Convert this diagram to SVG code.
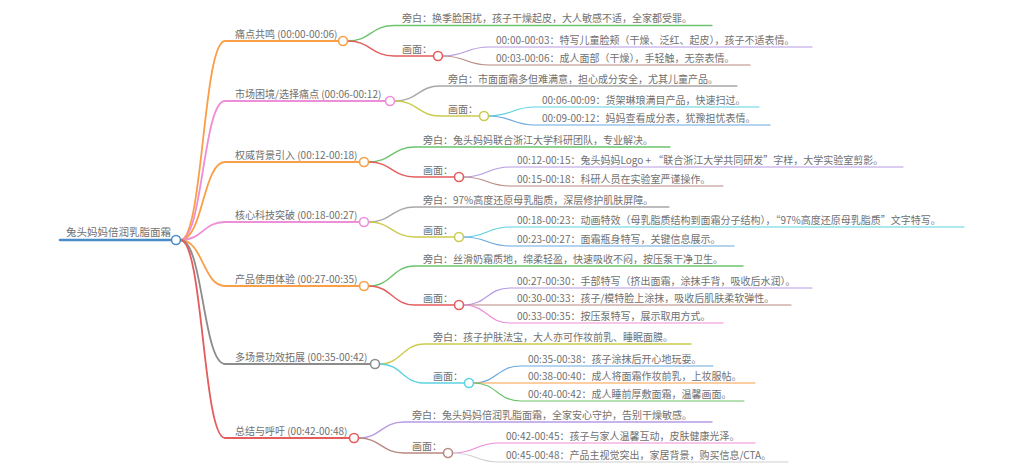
<svg xmlns="http://www.w3.org/2000/svg" width="1024" height="473" viewBox="0 0 1024 473">
<style>
text{font-family:"Noto Sans CJK SC","Liberation Sans",sans-serif;font-size:10px;fill:#707070}
.root{font-size:10.5px}
path{fill:none;stroke-linecap:round}
.l1{stroke-width:1.8}
.l2{stroke-width:1.4}
.l3{stroke-width:1.2}
circle{fill:#fff;stroke-width:1.6}
.or{stroke:#FA9E47}.pk{stroke:#EE8DD8}.gn{stroke:#6CC36C}.rd{stroke:#E45C5C}
.pu{stroke:#B79BE3}.br{stroke:#B88A80}.gy{stroke:#A8A8A8}.dg{stroke:#8C8C8C}
.ye{stroke:#CBCB50}.cy{stroke:#5DD2E2}.bl{stroke:#6BA7DD}.lg{stroke:#CFCFCF}.rb{stroke:#4A8CC8}
</style>
<g id="connectors">
<path class="l1 or" d="M180.5,240 C203,240 203,41 225,41 H338.5"/>
<path class="l1 pk" d="M180.5,240 C203,240 203,101 225,101 H385.5"/>
<path class="l1 or" d="M180.5,240 C203,240 203,162 225,162 H359.5"/>
<path class="l1 pk" d="M180.5,240 C203,240 203,222 225,222 H359.5"/>
<path class="l1 or" d="M180.5,240 C203,240 203,286 225,286 H359.5"/>
<path class="l1 dg" d="M180.5,240 C203,240 203,364 225,364 H370.5"/>
<path class="l1 rd" d="M180.5,240 C203,240 203,438 225,438 H349.5"/>

<path class="l2 gn" d="M347.5,41 C371,41 371,25.5 394,25.5 H712"/>
<path class="l2 rd" d="M347.5,41 C371,41 371,56 394,56 H433.5"/>
<path class="l2 gy" d="M394.5,101 C418,101 418,86 440,86 H737"/>
<path class="l2 ye" d="M394.5,101 C418,101 418,116 440,116 H479.5"/>
<path class="l2 gn" d="M368.5,162 C392,162 392,147 415,147 H670"/>
<path class="l2 rd" d="M368.5,162 C392,162 392,177 415,177 H454.5"/>
<path class="l2 gy" d="M368.5,222 C392,222 392,207 415,207 H669"/>
<path class="l2 ye" d="M368.5,222 C392,222 392,237 415,237 H454.5"/>
<path class="l2 gn" d="M368.5,286 C392,286 392,266 415,266 H743"/>
<path class="l2 rd" d="M368.5,286 C392,286 392,305 415,305 H454.5"/>
<path class="l2 ye" d="M379.5,364 C402,364 402,344 425,344 H691"/>
<path class="l2 cy" d="M379.5,364 C402,364 402,383 425,383 H464.5"/>
<path class="l2 pu" d="M358.5,438 C381,438 381,422 404,422 H712"/>
<path class="l2 br" d="M358.5,438 C381,438 381,453 404,453 H443.5"/>

<path class="l3 pu" d="M442.5,56 C466,56 466,47 489,47 H812"/>
<path class="l3 br" d="M442.5,56 C466,56 466,65 489,65 H750"/>
<path class="l3 cy" d="M488.5,116 C512,116 512,107 535,107 H759"/>
<path class="l3 bl" d="M488.5,116 C512,116 512,125 535,125 H770"/>
<path class="l3 pu" d="M463.5,177 C487,177 487,167 510,167 H903"/>
<path class="l3 br" d="M463.5,177 C487,177 487,186 510,186 H723"/>
<path class="l3 cy" d="M463.5,237 C487,237 487,227 510,227 H964"/>
<path class="l3 bl" d="M463.5,237 C487,237 487,246 510,246 H734"/>
<path class="l3 pu" d="M463.5,305 C487,305 487,288 510,288 H812"/>
<path class="l3 br" d="M463.5,305 H791"/>
<path class="l3 pk" d="M463.5,305 C487,305 487,323 510,323 H723"/>
<path class="l3 bl" d="M473.5,383 C497,383 497,366 521,366 H713"/>
<path class="l3 or" d="M473.5,383 H755"/>
<path class="l3 gn" d="M473.5,383 C497,383 497,401 521,401 H744"/>
<path class="l3 pk" d="M452.5,453 C476,453 476,443 499,443 H755"/>
<path class="l3 lg" d="M452.5,453 C476,453 476,462 499,462 H788"/>
</g>

<g id="root">
<path class="rb" stroke-width="2.5" d="M60,240 H171.5"/>
<text class="root" x="66" y="236">兔头妈妈倍润乳脂面霜</text>
<circle class="rb" cx="176" cy="240" r="4.5"/>
</g>

<g id="n1">
<text x="235" y="37.5">痛点共鸣 (00:00-00:06)</text>
<circle class="or" cx="343" cy="41" r="4.5"/>
</g>
<g id="n1a"><text x="402" y="22">旁白：换季脸困扰，孩子干燥起皮，大人敏感不适，全家都受罪。</text></g>
<g id="n1b"><text x="402" y="52.5">画面：</text><circle class="rd" cx="438" cy="56" r="4.5"/></g>
<g id="n1b1"><text x="496" y="43.5">00:00-00:03：特写儿童脸颊（干燥、泛红、起皮），孩子不适表情。</text></g>
<g id="n1b2"><text x="496" y="61.5">00:03-00:06：成人面部（干燥），手轻触，无奈表情。</text></g>

<g id="n2">
<text x="235" y="97.5">市场困境/选择痛点 (00:06-00:12)</text>
<circle class="pk" cx="390" cy="101" r="4.5"/>
</g>
<g id="n2a"><text x="448" y="82.5">旁白：市面面霜多但难满意，担心成分安全，尤其儿童产品。</text></g>
<g id="n2b"><text x="448" y="112.5">画面：</text><circle class="ye" cx="484" cy="116" r="4.5"/></g>
<g id="n2b1"><text x="542" y="103.5">00:06-00:09：货架琳琅满目产品，快速扫过。</text></g>
<g id="n2b2"><text x="542" y="121.5">00:09-00:12：妈妈查看成分表，犹豫担忧表情。</text></g>

<g id="n3">
<text x="235" y="158.5">权威背景引入 (00:12-00:18)</text>
<circle class="or" cx="364" cy="162" r="4.5"/>
</g>
<g id="n3a"><text x="423" y="143.5">旁白：兔头妈妈联合浙江大学科研团队，专业解决。</text></g>
<g id="n3b"><text x="423" y="173.5">画面：</text><circle class="rd" cx="459" cy="177" r="4.5"/></g>
<g id="n3b1"><text x="517" y="163.5">00:12-00:15：兔头妈妈Logo + “联合浙江大学共同研发”字样，大学实验室剪影。</text></g>
<g id="n3b2"><text x="517" y="182.5">00:15-00:18：科研人员在实验室严谨操作。</text></g>

<g id="n4">
<text x="235" y="218.5">核心科技突破 (00:18-00:27)</text>
<circle class="pk" cx="364" cy="222" r="4.5"/>
</g>
<g id="n4a"><text x="423" y="203.5">旁白：97%高度还原母乳脂质，深层修护肌肤屏障。</text></g>
<g id="n4b"><text x="423" y="233.5">画面：</text><circle class="ye" cx="459" cy="237" r="4.5"/></g>
<g id="n4b1"><text x="517" y="223.5">00:18-00:23：动画特效（母乳脂质结构到面霜分子结构），“97%高度还原母乳脂质”文字特写。</text></g>
<g id="n4b2"><text x="517" y="242.5">00:23-00:27：面霜瓶身特写，关键信息展示。</text></g>

<g id="n5">
<text x="235" y="282.5">产品使用体验 (00:27-00:35)</text>
<circle class="or" cx="364" cy="286" r="4.5"/>
</g>
<g id="n5a"><text x="423" y="262.5">旁白：丝滑奶霜质地，绵柔轻盈，快速吸收不闷，按压泵干净卫生。</text></g>
<g id="n5b"><text x="423" y="301.5">画面：</text><circle class="rd" cx="459" cy="305" r="4.5"/></g>
<g id="n5b1"><text x="517" y="284.5">00:27-00:30：手部特写（挤出面霜，涂抹手背，吸收后水润）。</text></g>
<g id="n5b2"><text x="517" y="301.5">00:30-00:33：孩子/模特脸上涂抹，吸收后肌肤柔软弹性。</text></g>
<g id="n5b3"><text x="517" y="319.5">00:33-00:35：按压泵特写，展示取用方式。</text></g>

<g id="n6">
<text x="235" y="360.5">多场景功效拓展 (00:35-00:42)</text>
<circle class="dg" cx="375" cy="364" r="4.5"/>
</g>
<g id="n6a"><text x="433" y="340.5">旁白：孩子护肤法宝，大人亦可作妆前乳、睡眠面膜。</text></g>
<g id="n6b"><text x="433" y="379.5">画面：</text><circle class="cy" cx="469" cy="383" r="4.5"/></g>
<g id="n6b1"><text x="528" y="362.5">00:35-00:38：孩子涂抹后开心地玩耍。</text></g>
<g id="n6b2"><text x="528" y="379.5">00:38-00:40：成人将面霜作妆前乳，上妆服帖。</text></g>
<g id="n6b3"><text x="528" y="397.5">00:40-00:42：成人睡前厚敷面霜，温馨画面。</text></g>

<g id="n7">
<text x="235" y="434.5">总结与呼吁 (00:42-00:48)</text>
<circle class="rd" cx="354" cy="438" r="4.5"/>
</g>
<g id="n7a"><text x="412" y="418.5">旁白：兔头妈妈倍润乳脂面霜，全家安心守护，告别干燥敏感。</text></g>
<g id="n7b"><text x="412" y="449.5">画面：</text><circle class="br" cx="448" cy="453" r="4.5"/></g>
<g id="n7b1"><text x="506" y="439.5">00:42-00:45：孩子与家人温馨互动，皮肤健康光泽。</text></g>
<g id="n7b2"><text x="506" y="458.5">00:45-00:48：产品主视觉突出，家居背景，购买信息/CTA。</text></g>
</svg>
